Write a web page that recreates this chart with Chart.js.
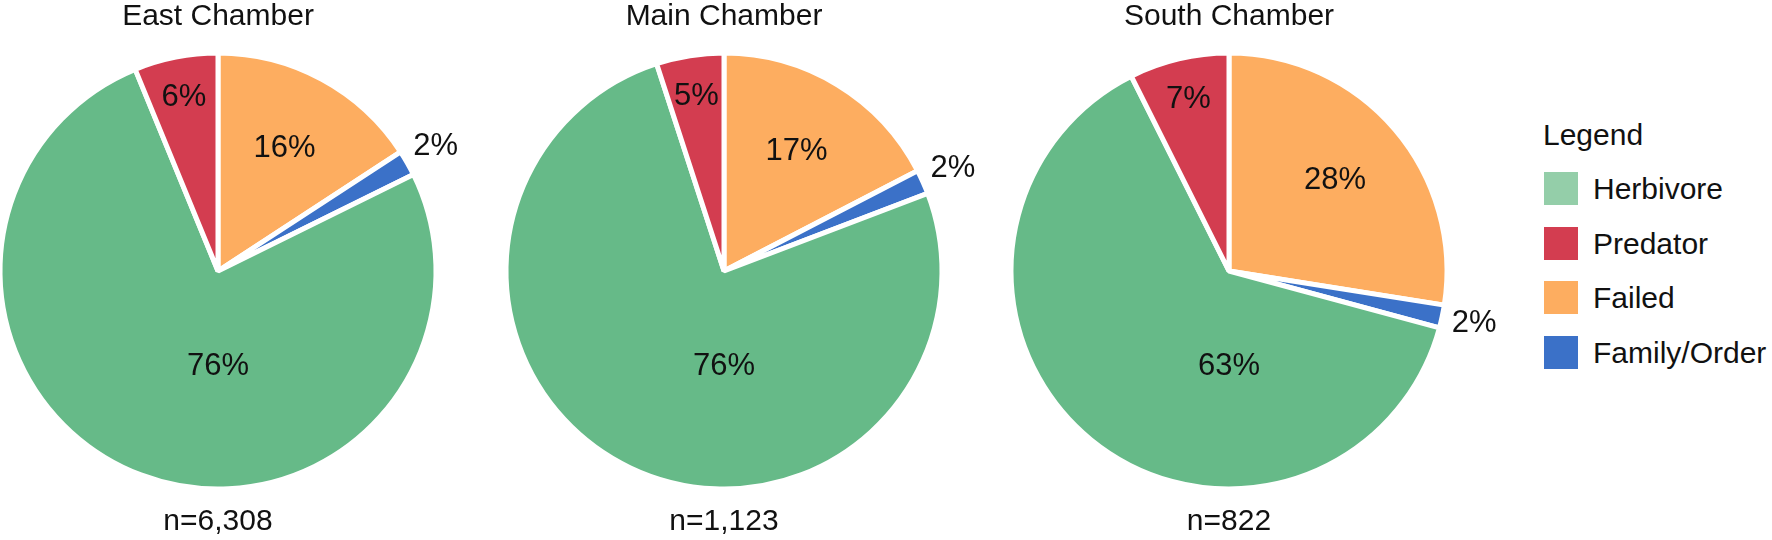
<!DOCTYPE html>
<html>
<head>
<meta charset="utf-8">
<script src="https://cdn.jsdelivr.net/npm/chart.js@4.4.1/dist/chart.umd.min.js"></script>
<style>
  html, body { margin: 0; padding: 0; background: #ffffff; }
  body { width: 1772px; height: 540px; position: relative; overflow: hidden;
         font-family: "Liberation Sans", Arial, sans-serif; color: #111111; }
  .pie { position: absolute; top: 0; width: 560px; height: 540px; }
  .pie canvas { display: block; }
  #legend { position: absolute; left: 1543px; top: 0; width: 229px; height: 540px; }
  #legend .ltitle { position: absolute; left: 0; top: 118px; font-size: 30px; line-height: 33px; white-space: nowrap; }
  #legend .item { position: absolute; left: 0; height: 33px; white-space: nowrap; }
  #legend .sw { position: absolute; left: 1px; top: 0; width: 34px; height: 33px; }
  #legend .lt { position: absolute; left: 50px; top: 0; font-size: 30px; line-height: 33px; }
</style>
</head>
<body>
<div class="pie" style="left:-62px"><canvas id="c0" width="560" height="540"></canvas></div>
<div class="pie" style="left:444px"><canvas id="c1" width="560" height="540"></canvas></div>
<div class="pie" style="left:949px"><canvas id="c2" width="560" height="540"></canvas></div>
<div id="legend"></div>
<script>
// ---- data (percent shares) ----
const categories   = ['Failed', 'Family/Order', 'Herbivore', 'Predator']; // clockwise from 12 o'clock
const legendOrder  = ['Herbivore', 'Predator', 'Failed', 'Family/Order'];
const chamberNames = ['East Chamber', 'Main Chamber', 'South Chamber'];
const sampleSizes  = ['n=6,308', 'n=1,123', 'n=822'];
const eastValues   = [15.8, 1.9, 76.1, 6.2];
const mainValues   = [17.4, 1.8, 75.8, 5.0];
const southValues  = [27.5, 1.7, 63.4, 7.4];
const legendTitle  = 'Legend';

// ---- style ----
const FONT = '"Liberation Sans", Arial, sans-serif';
const TEXT = '#111111';
const sliceColors  = { 'Herbivore': '#66ba88', 'Predator': '#d33d50', 'Failed': '#fdad60', 'Family/Order': '#3b71c8' };
const legendColors = { 'Herbivore': '#94cea9', 'Predator': '#d33d50', 'Failed': '#fdad60', 'Family/Order': '#3b71c8' };
// label placement: dist = fraction of radius; angle (deg, clockwise from 12) overrides slice mid-angle
const labelPlacement = {
  'Failed':       { dist: 0.64 },
  'Family/Order': { dist: 1.15 },
  'Herbivore':    { dist: 0.436, angle: 180 },
  'Predator':     { dist: 0.81 }
};
const RADIUS = 218;

const pctLabels = {
  id: 'pctLabels',
  afterDatasetsDraw(chart) {
    const meta = chart.getDatasetMeta(0);
    const values = chart.data.datasets[0].data;
    const total = values.reduce((a, b) => a + b, 0);
    const ctx = chart.ctx;
    ctx.save();
    ctx.font = '31px ' + FONT;
    ctx.fillStyle = TEXT;
    ctx.textAlign = 'center';
    ctx.textBaseline = 'middle';
    meta.data.forEach((arc, i) => {
      const p = arc.getProps(['x', 'y', 'startAngle', 'endAngle', 'outerRadius'], true);
      const place = labelPlacement[chart.data.labels[i]];
      const a = (place.angle !== undefined) ? (place.angle - 90) * Math.PI / 180 : (p.startAngle + p.endAngle) / 2;
      const d = place.dist * p.outerRadius;
      ctx.fillText(Math.round(values[i] / total * 100) + '%', p.x + Math.cos(a) * d, p.y + Math.sin(a) * d);
    });
    ctx.restore();
  }
};

function makePie(id, idx, values) {
  return new Chart(document.getElementById(id), {
    type: 'pie',
    data: {
      labels: categories,
      datasets: [{
        data: values,
        backgroundColor: categories.map(c => sliceColors[c]),
        borderColor: '#ffffff',
        borderWidth: 5,
        hoverOffset: 0
      }]
    },
    options: {
      responsive: false,
      animation: false,
      events: [],
      radius: RADIUS,
      layout: { padding: 0 },
      plugins: {
        legend: { display: false },
        tooltip: { enabled: false },
        title: {
          display: true, text: chamberNames[idx], color: TEXT,
          font: { family: FONT, size: 30, weight: 'normal', lineHeight: 1 },
          padding: { top: 2, bottom: 4 }
        },
        subtitle: {
          display: true, position: 'bottom', text: sampleSizes[idx], color: TEXT,
          font: { family: FONT, size: 30, weight: 'normal', lineHeight: 1 },
          padding: { top: 1, bottom: 3 }
        }
      }
    },
    plugins: [pctLabels]
  });
}

makePie('c0', 0, eastValues);
makePie('c1', 1, mainValues);
makePie('c2', 2, southValues);

// HTML legend built from the category list
const lg = document.getElementById('legend');
const t = document.createElement('div');
t.className = 'ltitle';
t.textContent = legendTitle;
lg.appendChild(t);
legendOrder.forEach((name, i) => {
  const it = document.createElement('div');
  it.className = 'item';
  it.style.top = (172 + i * 54.5) + 'px';
  const sw = document.createElement('div');
  sw.className = 'sw';
  sw.style.background = legendColors[name];
  const lt = document.createElement('div');
  lt.className = 'lt';
  lt.textContent = name;
  it.appendChild(sw);
  it.appendChild(lt);
  lg.appendChild(it);
});
</script>
</body>
</html>
